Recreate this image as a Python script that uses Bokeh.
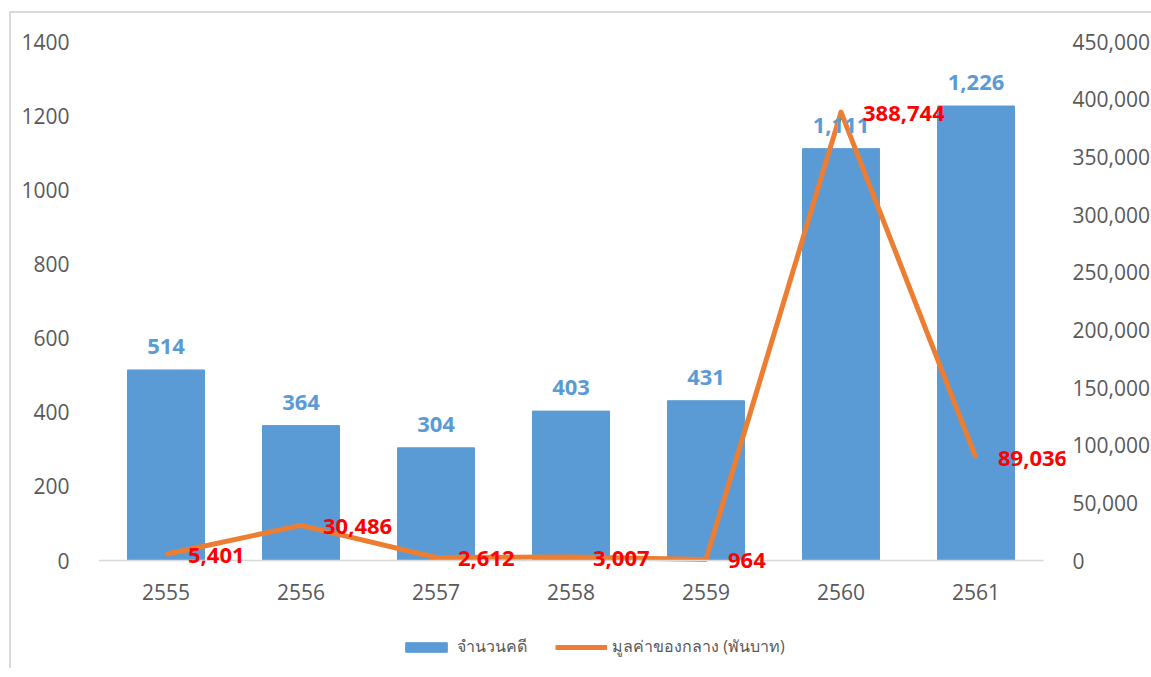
from bokeh.plotting import figure
from bokeh.models import (Range1d, LinearAxis, ColumnDataSource, Legend,
                          LegendItem, NumeralTickFormatter, FixedTicker, LabelSet)
from bokeh.core.properties import value
from bokeh.embed import file_html
from bokeh.resources import INLINE

years = ["2555", "2556", "2557", "2558", "2559", "2560", "2561"]
cases = [514, 364, 304, 403, 431, 1111, 1226]
seized = [5401, 30486, 2612, 3007, 964, 388744, 89036]
bar_name = "จำนวนคดี"
line_name = "มูลค่าของกลาง (พันบาท)"

n = len(years)
xpos = [i + 0.5 for i in range(n)]
src = ColumnDataSource(dict(
    x=xpos, cases=cases, seized=seized,
    cases_lbl=[f"{v:,}" for v in cases],
    seized_lbl=[f"{v:,}" for v in seized],
))

FONT = "Open Sans"
GRAY = "#595959"

# pixel geometry of the plotting area
CAT_W = 945            # width spanned by the categories
AXIS_H = 519           # height from 0 to the axis maximum
FRAME_W = 967          # frame extended right so end labels are not clipped
FRAME_H = 623          # frame extended down so labels & legend are not clipped
L_MAX, R_MAX = 1400, 450000
below_px = FRAME_H - AXIS_H

p = figure(x_range=Range1d(0, n * FRAME_W / CAT_W),
           y_range=Range1d(-below_px * L_MAX / AXIS_H, L_MAX),
           frame_width=FRAME_W, frame_height=FRAME_H,
           min_border_left=87, min_border_top=28, min_border_right=60, min_border_bottom=4,
           x_axis_location=None, y_axis_location="left",
           output_backend="svg", toolbar_location=None, background_fill_color="white",
           border_fill_color="white")
p.margin = (11, 0, 0, 9)
p.styles = {"border-left": "2px solid #D9D9D9", "border-top": "2px solid #D9D9D9"}
p.outline_line_color = None
p.grid.visible = False
p.extra_y_ranges = {"val": Range1d(-below_px * R_MAX / AXIS_H, R_MAX)}

bars = p.vbar(x="x", top="cases", width=0.57, source=src, color="#5B9BD5")
line = p.line(x="x", y="seized", y_range_name="val", source=src, line_color="#ED7D31",
              line_width=5, line_join="round")

bar_labels = LabelSet(x="x", y="cases", text="cases_lbl", source=src, text_align="center",
                      text_baseline="bottom", y_offset=16, text_color="#5B9BD5",
                      text_font=value(FONT), text_font_style="bold", text_font_size="22px")
line_labels = LabelSet(x="x", y="seized", text="seized_lbl", source=src, y_range_name="val",
                       text_align="left", text_baseline="middle", x_offset=22, y_offset=-1,
                       text_color="#FF0000", text_font=value(FONT), text_font_style="bold",
                       text_font_size="22px")
p.add_layout(bar_labels)
p.add_layout(line_labels)

# category axis placed at value 0
xa = LinearAxis(ticker=FixedTicker(ticks=xpos), fixed_location=0, bounds=(0, n),
                major_label_overrides={x: y for x, y in zip(xpos, years)})
xa.axis_line_color = "#D9D9D9"
xa.axis_line_width = 1.5
xa.major_tick_line_color = None
xa.minor_tick_line_color = None
xa.major_label_standoff = 17
xa.major_label_text_font = FONT
xa.major_label_text_font_size = "21px"
xa.major_label_text_color = GRAY
p.add_layout(xa, "below")

ya = p.yaxis[0]
ya.ticker = FixedTicker(ticks=list(range(0, L_MAX + 1, 200)))
ya.axis_line_color = None
ya.major_tick_line_color = None
ya.minor_tick_line_color = None
ya.major_label_standoff = 23
ya.major_label_text_font = FONT
ya.major_label_text_font_size = "21px"
ya.major_label_text_color = GRAY

ra = LinearAxis(y_range_name="val", ticker=FixedTicker(ticks=list(range(0, R_MAX + 1, 50000))),
                formatter=NumeralTickFormatter(format="0,0"))
ra.axis_line_color = None
ra.major_tick_line_color = None
ra.minor_tick_line_color = None
ra.major_label_standoff = 1
ra.major_label_text_font = FONT
ra.major_label_text_font_size = "21px"
ra.major_label_text_color = GRAY
p.add_layout(ra, "right")

legend = Legend(items=[LegendItem(label=bar_name, renderers=[bars]),
                       LegendItem(label=line_name, renderers=[line])],
                orientation="horizontal", location=(302, 5),
                label_text_font=FONT, label_text_font_size="16px", label_text_color=GRAY,
                glyph_width=52, glyph_height=12, spacing=28, label_standoff=5,
                border_line_color=None, background_fill_alpha=0, margin=0, padding=0)
p.add_layout(legend, "center")

open("out.html", "w").write(file_html(p, INLINE))
